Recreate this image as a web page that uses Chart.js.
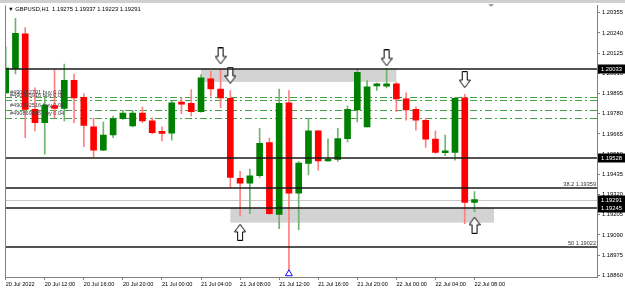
<!DOCTYPE html>
<html>
<head>
<meta charset="utf-8">
<script src="https://cdn.jsdelivr.net/npm/chart.js@4.4.0/dist/chart.umd.min.js"></script>
<style>
  html, body { margin: 0; padding: 0; background: #fff; }
  #wrap { width: 625px; height: 291px; }
</style>
</head>
<body>
<div id="wrap"><canvas id="fxChart" width="625" height="291"></canvas></div>
<script>
// GBPUSD H1, 20 Jul 08:00 -> 22 Jul 08:00 (bar index 0..48)
const symbol = 'GBPUSD,H1';

const opens = [1.19899, 1.20037, 1.20235, 1.19805, 1.19729, 1.19827, 1.19810, 1.19970, 1.19874, 1.19706,
  1.19573, 1.19659, 1.19752, 1.19710, 1.19784, 1.19739, 1.19671, 1.19669, 1.19846, 1.19839,
  1.19791, 1.19978, 1.19921, 1.19867, 1.19412, 1.19384, 1.19427, 1.19616, 1.19207, 1.19842,
  1.19327, 1.19497, 1.19682, 1.19511, 1.19520, 1.19638, 1.19801, 1.19705, 1.19939, 1.19937,
  1.19950, 1.19865, 1.19805, 1.19743, 1.19635, 1.19558, 1.19559, 1.19870, 1.19275];
const highs = [1.20163, 1.20323, 1.20270, 1.19927, 1.19880, 1.20031, 1.20063, 1.20006, 1.19893, 1.19754,
  1.19733, 1.19767, 1.19799, 1.19799, 1.19818, 1.19757, 1.19705, 1.19852, 1.19867, 1.19918,
  1.20003, 1.20021, 1.20033, 1.19912, 1.19452, 1.19465, 1.19697, 1.19641, 1.19921, 1.19912,
  1.19508, 1.19754, 1.19686, 1.19637, 1.19697, 1.19823, 1.20031, 1.19969, 1.19955, 1.20037,
  1.19959, 1.19899, 1.19819, 1.19754, 1.19682, 1.19658, 1.19870, 1.19890, 1.19337];
const lows = [1.19895, 1.20006, 1.19644, 1.19682, 1.19550, 1.19757, 1.19739, 1.19729, 1.19593, 1.19535,
  1.19569, 1.19644, 1.19747, 1.19705, 1.19729, 1.19667, 1.19625, 1.19629, 1.19780, 1.19767,
  1.19789, 1.19880, 1.19814, 1.19361, 1.19197, 1.19211, 1.19418, 1.19207, 1.19126, 1.18878,
  1.19120, 1.19431, 1.19459, 1.19508, 1.19509, 1.19620, 1.19733, 1.19705, 1.19912, 1.19927,
  1.19791, 1.19743, 1.19686, 1.19588, 1.19554, 1.19541, 1.19516, 1.19154, 1.19223];
const closes = [1.20040, 1.20238, 1.19805, 1.19729, 1.19829, 1.19810, 1.19970, 1.19870, 1.19714, 1.19573,
  1.19659, 1.19752, 1.19784, 1.19784, 1.19739, 1.19672, 1.19668, 1.19842, 1.19835, 1.19791,
  1.19984, 1.19921, 1.19870, 1.19418, 1.19384, 1.19427, 1.19612, 1.19211, 1.19839, 1.19327,
  1.19499, 1.19682, 1.19512, 1.19516, 1.19638, 1.19805, 1.20016, 1.19933, 1.19942, 1.19950,
  1.19865, 1.19801, 1.19743, 1.19635, 1.19559, 1.19560, 1.19867, 1.19275, 1.19291];

// time axis labels (every 4th bar)
const tickPos = [0, 4, 8, 12, 16, 20, 24, 28, 32, 36, 40, 44, 48];
const tickLabels = ['20 Jul 2022', '20 Jul 12:00', '20 Jul 16:00', '20 Jul 20:00', '21 Jul 00:00', '21 Jul 04:00',
  '21 Jul 08:00', '21 Jul 12:00', '21 Jul 16:00', '21 Jul 20:00', '22 Jul 00:00', '22 Jul 04:00', '22 Jul 08:00'];

// price scale labels
const priceTicks = [1.18860, 1.18975, 1.19090, 1.19205, 1.19320, 1.19435, 1.19550, 1.19665,
  1.19780, 1.19895, 1.20010, 1.20125, 1.20240, 1.20355];

// horizontal levels
const levelPrices = [1.20033, 1.19528, 1.19359, 1.19245, 1.19022];
const levelTags = ['', '', '38.2 1.19359', '', '50 1.19022'];
const boxPrices = [1.20033, 1.19528, 1.19291, 1.19245];
const bidPrice = 1.19291;

// open orders (green dash-dot)
const orderPrices = [1.19876, 1.19859, 1.19801, 1.19755];
const orderTags = ['#490452791 buy 0.03', '#490385916 buy 0.03', '#490502516 buy 0.01', '#490869916 buy 0.04'];

// supply / demand zones
const zoneFrom = [20, 23];
const zoneTo = [40, 50];
const zoneTop = [1.20033, 1.19245];
const zoneBottom = [1.19961, 1.19160];

// arrow markers
const downArrowBars = [22, 23, 39, 47];
const downArrowPrices = [1.20109, 1.19999, 1.20098, 1.19974];
const upArrowBars = [24, 48];
const upArrowPrices = [1.19105, 1.19145];

// event marker at bottom
const eventBars = [29];
const eventPrices = [1.18869];

const FONT = "'Liberation Sans', Arial, sans-serif";
const GREEN = '#008000';
const RED = '#ff0000';
const GREEN_WICK = '#6fb46f';
const RED_WICK = '#ff8080';

function makeArrow(up) {
  const c = document.createElement('canvas');
  c.width = 12; c.height = 17;
  const g = c.getContext('2d');
  const pts = [[3.5, 0.5], [8.5, 0.5], [8.5, 9], [11.5, 9], [6, 16.5], [0.5, 9], [3.5, 9]];
  g.beginPath();
  pts.forEach((p, i) => {
    const py = up ? 17 - p[1] : p[1];
    if (i === 0) g.moveTo(p[0], py); else g.lineTo(p[0], py);
  });
  g.closePath();
  g.fillStyle = '#fff';
  g.fill();
  g.strokeStyle = '#000';
  g.lineWidth = 1;
  g.stroke();
  return c;
}

const bullish = opens.map((o, i) => closes[i] >= o);

const fxPlugin = {
  id: 'fxPlugin',
  beforeDraw(chart) {
    const { ctx, width, height } = chart;
    ctx.save();
    ctx.fillStyle = '#fff';
    ctx.fillRect(0, 0, width, height);
    ctx.fillStyle = '#cfcfcf';
    ctx.fillRect(0, 0, width, 3);
    ctx.restore();
  },
  beforeDatasetsDraw(chart) {
    const { ctx, chartArea: a, scales: { x, y } } = chart;
    ctx.save();
    ctx.beginPath();
    ctx.rect(a.left, a.top, a.right - a.left, a.bottom - a.top);
    ctx.clip();
    // zones
    ctx.fillStyle = '#d3d3d3';
    zoneFrom.forEach((f, i) => {
      const x0 = x.getPixelForValue(f), x1 = x.getPixelForValue(zoneTo[i]);
      const y0 = y.getPixelForValue(zoneTop[i]), y1 = y.getPixelForValue(zoneBottom[i]);
      ctx.fillRect(x0, y0, x1 - x0, y1 - y0);
    });
    // bid line
    ctx.strokeStyle = '#c8c8c8';
    ctx.lineWidth = 1;
    let py = Math.round(y.getPixelForValue(bidPrice)) + 0.5;
    ctx.beginPath(); ctx.moveTo(a.left, py); ctx.lineTo(a.right, py); ctx.stroke();
    // order lines
    ctx.strokeStyle = '#46a046';
    ctx.setLineDash([7, 3, 2, 3]);
    orderPrices.forEach(p => {
      const yy = Math.round(y.getPixelForValue(p)) + 0.5;
      ctx.beginPath(); ctx.moveTo(a.left, yy); ctx.lineTo(a.right, yy); ctx.stroke();
    });
    ctx.restore();
  },
  afterDatasetsDraw(chart) {
    const { ctx, chartArea: a, scales: { y } } = chart;
    ctx.save();
    ctx.strokeStyle = '#1a1a1a';
    ctx.lineWidth = 1.5;
    ctx.font = '5.6px ' + FONT;
    ctx.textBaseline = 'alphabetic';
    levelPrices.forEach((p, i) => {
      const yy = Math.round(y.getPixelForValue(p));
      ctx.beginPath(); ctx.moveTo(a.left, yy); ctx.lineTo(a.right, yy); ctx.stroke();
      if (levelTags[i]) {
        ctx.fillStyle = '#333';
        ctx.textAlign = 'right';
        ctx.fillText(levelTags[i], a.right - 1, yy - 2);
      }
    });
    // order tags
    ctx.fillStyle = '#444';
    ctx.textAlign = 'left';
    orderTags.forEach((t, i) => {
      const yy = y.getPixelForValue(orderPrices[i]);
      ctx.fillText(t, a.left + 5, yy - 3);
    });
    // header
    ctx.fillStyle = '#000';
    ctx.font = '5.8px ' + FONT;
    const n = opens.length - 1;
    const head = '\u25BC ' + symbol + '  ' + [opens[n], highs[n], lows[n], closes[n]].map(v => v.toFixed(5)).join(' ');
    ctx.fillText(head, a.left + 3, 11);
    ctx.restore();
  },
  afterDraw(chart) {
    const { ctx, chartArea: a, scales: { x, y } } = chart;
    ctx.save();
    // left frame
    ctx.strokeStyle = '#808080';
    ctx.lineWidth = 1;
    ctx.beginPath(); ctx.moveTo(a.left + 0.5, a.top); ctx.lineTo(a.left + 0.5, a.bottom); ctx.stroke();
    // price boxes
    ctx.font = '5.8px ' + FONT;
    ctx.textAlign = 'left';
    ctx.textBaseline = 'middle';
    boxPrices.forEach(p => {
      const yy = Math.round(y.getPixelForValue(p));
      ctx.fillStyle = '#000';
      ctx.fillRect(a.right + 1, yy - 4.5, 27, 9);
      ctx.fillStyle = '#fff';
      ctx.fillText(p.toFixed(5), a.right + 4, yy + 0.5);
    });
    // chart shift marker
    const sx = x.getPixelForValue(49.7);
    ctx.fillStyle = '#a0a0a0';
    ctx.beginPath(); ctx.moveTo(sx - 3, 4); ctx.lineTo(sx + 3, 4); ctx.lineTo(sx, 7); ctx.closePath(); ctx.fill();
    ctx.restore();
  }
};

const ctx = document.getElementById('fxChart').getContext('2d');

new Chart(ctx, {
  type: 'bar',
  data: {
    datasets: [
      {
        type: 'scatter',
        data: downArrowBars.map((b, i) => ({ x: b, y: downArrowPrices[i] })),
        pointStyle: makeArrow(false),
        order: 0,
        clip: false
      },
      {
        type: 'scatter',
        data: upArrowBars.map((b, i) => ({ x: b, y: upArrowPrices[i] })),
        pointStyle: makeArrow(true),
        order: 0,
        clip: false
      },
      {
        type: 'scatter',
        data: eventBars.map((b, i) => ({ x: b, y: eventPrices[i] })),
        pointStyle: 'triangle',
        pointRadius: 4,
        borderColor: '#1010ff',
        backgroundColor: '#fff',
        borderWidth: 1,
        order: 0,
        clip: false
      },
      {
        label: 'body',
        data: opens.map((o, i) => ({ x: i, y: [o, closes[i]] })),
        backgroundColor: bullish.map(b => b ? GREEN : RED),
        barThickness: 6,
        minBarLength: 2,
        grouped: false,
        order: 1
      },
      {
        label: 'wick',
        data: lows.map((l, i) => ({ x: i, y: [l, highs[i]] })),
        backgroundColor: bullish.map(b => b ? GREEN_WICK : RED_WICK),
        barThickness: 1,
        grouped: false,
        order: 2
      }
    ]
  },
  options: {
    responsive: false,
    animation: false,
    devicePixelRatio: 1,
    layout: { padding: { left: 1, top: 4, right: 0, bottom: 0 } },
    plugins: {
      legend: { display: false },
      tooltip: { enabled: false }
    },
    scales: {
      x: {
        type: 'linear',
        offset: false,
        min: -0.07,
        max: 60.54,
        afterBuildTicks: s => { s.ticks = tickPos.map(v => ({ value: v })); },
        afterFit: s => { s.height = 14; },
        ticks: {
          autoSkip: false,
          maxRotation: 0,
          align: 'start',
          padding: 1,
          color: '#000',
          font: { family: FONT, size: 5.6 },
          callback: v => tickLabels[tickPos.indexOf(v)]
        },
        grid: { offset: false, drawOnChartArea: false, drawTicks: true, tickLength: 3, color: '#808080' },
        border: { display: true, color: '#808080' }
      },
      y: {
        type: 'linear',
        position: 'right',
        min: 1.188504,
        max: 1.203963,
        afterBuildTicks: s => { s.ticks = priceTicks.map(v => ({ value: v })); },
        afterFit: s => { s.width = 28; },
        ticks: {
          autoSkip: false,
          padding: 2,
          color: '#000',
          font: { family: FONT, size: 5.8 },
          callback: v => v.toFixed(5)
        },
        grid: { drawOnChartArea: false, drawTicks: true, tickLength: 3, color: '#808080' },
        border: { display: true, color: '#808080' }
      }
    }
  },
  plugins: [fxPlugin]
});
</script>
</body>
</html>
